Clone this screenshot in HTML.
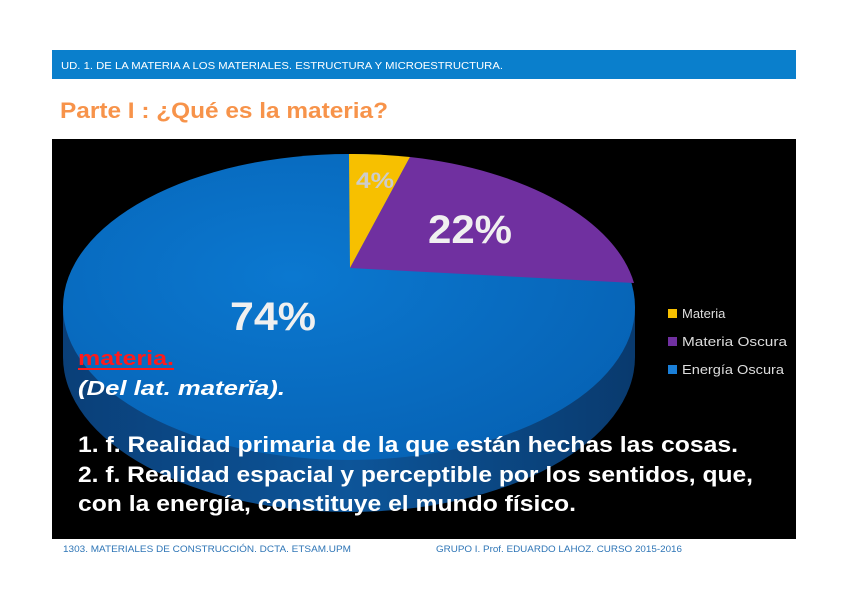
<!DOCTYPE html>
<html><head><meta charset="utf-8"><style>
html,body{margin:0;padding:0;background:#fff;}
svg{display:block;}
</style></head><body>
<svg width="848" height="599" viewBox="0 0 848 599" xmlns="http://www.w3.org/2000/svg">
<defs>
<linearGradient id="side" x1="0" y1="0" x2="1" y2="0">
<stop offset="0" stop-color="#0a3f78"/><stop offset="0.5" stop-color="#0d5599"/><stop offset="1" stop-color="#093a6e"/>
</linearGradient>
<radialGradient id="top" cx="0.4" cy="0.4" r="0.7">
<stop offset="0" stop-color="#0b78d0"/><stop offset="1" stop-color="#0662b4"/>
</radialGradient>
</defs>
<rect x="52" y="50" width="744" height="29" fill="#0a7fcc"/>
<text x="61" y="69" font-family="Liberation Sans, sans-serif" font-size="10" fill="#fff" textLength="442" lengthAdjust="spacingAndGlyphs">UD. 1. DE LA MATERIA A LOS MATERIALES. ESTRUCTURA Y MICROESTRUCTURA.</text>
<text x="60" y="118" font-family="Liberation Sans, sans-serif" font-size="22" font-weight="bold" fill="#f7934a" textLength="328" lengthAdjust="spacingAndGlyphs">Parte I : ¿Qué es la materia?</text>
<rect x="52" y="139" width="744" height="400" fill="#000"/>
<!-- pie side -->
<ellipse cx="349" cy="357" rx="286" ry="155" fill="url(#side)"/>
<rect x="63" y="307" width="572" height="50" fill="url(#side)"/>
<!-- top face -->
<ellipse cx="349" cy="307" rx="286" ry="153" fill="url(#top)"/>
<path d="M350,268 L349,154 A286,153 0 0 1 410,157 Z" fill="#f7c000"/>
<path d="M350,268 L410,157 A286,153 0 0 1 634,283 Z" fill="#7030a0"/>
<g font-family="Liberation Sans, sans-serif" fill="#eee">
<text x="356" y="188" font-size="22" fill="#ccc" font-weight="bold" textLength="38" lengthAdjust="spacingAndGlyphs">4%</text>
<text x="428" y="243" font-size="40" font-weight="bold" fill="#f0f0f0" textLength="84" lengthAdjust="spacingAndGlyphs">22%</text>
<text x="230" y="330" font-size="40" font-weight="bold" fill="#f0f0f0" textLength="86" lengthAdjust="spacingAndGlyphs">74%</text>
<rect x="668" y="309" width="9" height="9" fill="#f7c000"/>
<rect x="668" y="337" width="9" height="9" fill="#7030a0"/>
<rect x="668" y="365" width="9" height="9" fill="#1a7fd8"/>
<text x="682" y="318" font-size="13" fill="#ddd">Materia</text>
<text x="682" y="346" font-size="13" fill="#ddd" textLength="105" lengthAdjust="spacingAndGlyphs">Materia Oscura</text>
<text x="682" y="374" font-size="13" fill="#ddd" textLength="102" lengthAdjust="spacingAndGlyphs">Energía Oscura</text>
</g>
<g font-family="Liberation Sans, sans-serif" font-weight="bold">
<text x="78" y="365" font-size="20" fill="#ff1a1a" textLength="96" lengthAdjust="spacingAndGlyphs">materia.</text>
<rect x="78" y="368" width="96" height="2" fill="#ff1a1a"/>
<text x="78" y="395" font-size="20" font-style="italic" fill="#fff" textLength="207" lengthAdjust="spacingAndGlyphs">(Del lat. materĭa).</text>
<text x="78" y="452" font-size="22" fill="#fff" textLength="660" lengthAdjust="spacingAndGlyphs">1. f. Realidad primaria de la que están hechas las cosas.</text>
<text x="78" y="482" font-size="22" fill="#fff" textLength="675" lengthAdjust="spacingAndGlyphs">2. f. Realidad espacial y perceptible por los sentidos, que,</text>
<text x="78" y="511" font-size="22" fill="#fff" textLength="498" lengthAdjust="spacingAndGlyphs">con la energía, constituye el mundo físico.</text>
</g>
<g font-family="Liberation Sans, sans-serif" font-size="9" fill="#2e75b6">
<text x="63" y="552" textLength="288" lengthAdjust="spacingAndGlyphs">1303. MATERIALES DE CONSTRUCCIÓN. DCTA. ETSAM.UPM</text>
<text x="436" y="552" textLength="246" lengthAdjust="spacingAndGlyphs">GRUPO I. Prof. EDUARDO LAHOZ. CURSO 2015-2016</text>
</g>
</svg>
</body></html>
